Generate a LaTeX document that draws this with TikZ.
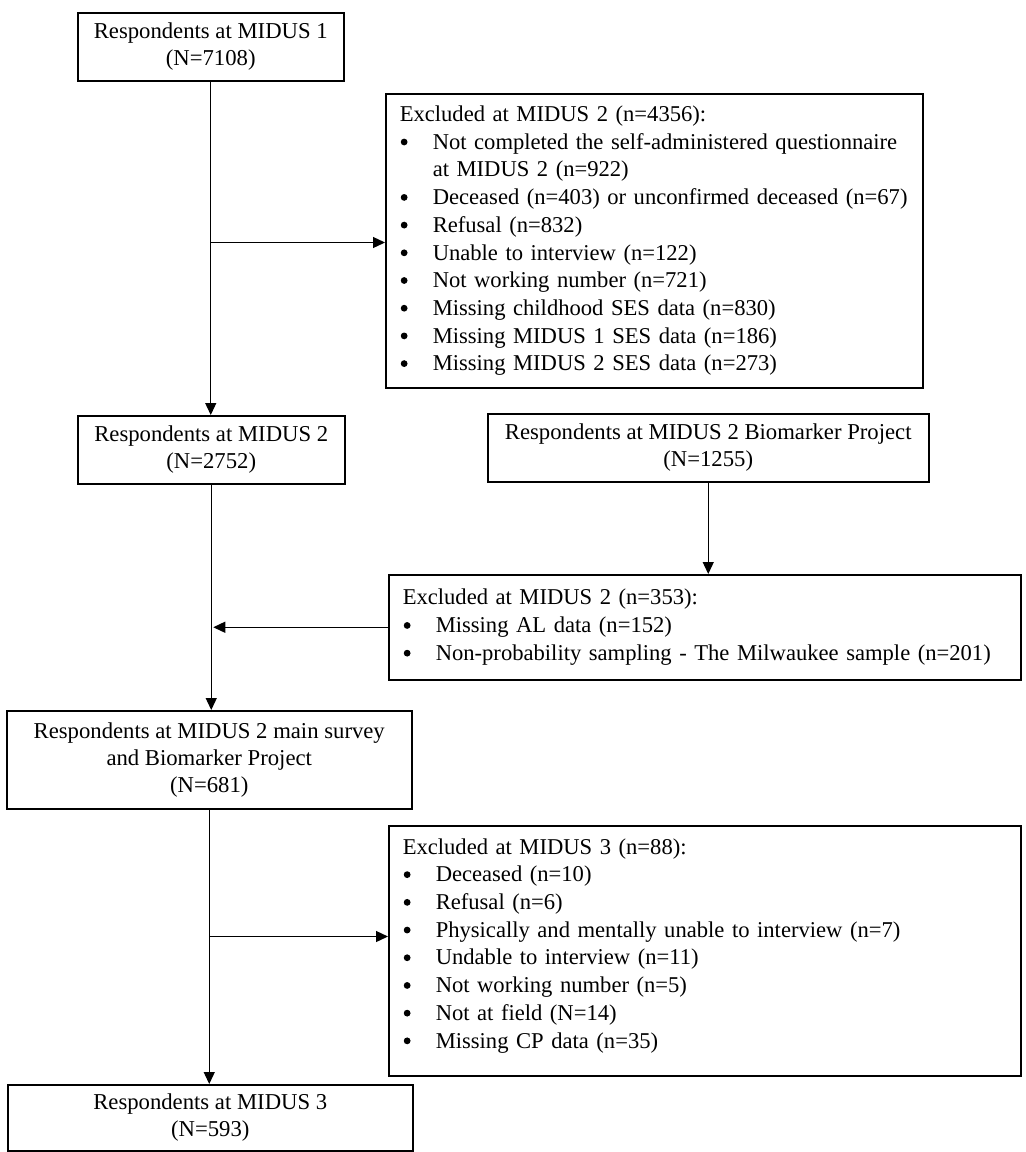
\documentclass[tikz,border=0pt]{standalone}
\usepackage{fontspec}
\setmainfont{Liberation Serif}
\usetikzlibrary{arrows.meta}
\newcommand{\myb}{\makebox[33pt][l]{\hspace{1pt}\tikz[x=1pt,y=1pt,baseline=0pt]\fill (3.6,7.2) circle[radius=3.4];}}
\newcommand{\myind}{\hspace*{33pt}}
\begin{document}
\begin{tikzpicture}[x=1pt,y=-1pt,
  box/.style={draw, line width=1.5pt, anchor=north west, align=center, inner sep=0pt,
    font=\fontsize{22.7}{27}\selectfont},
  excl/.style={draw, line width=1.5pt, anchor=north west, align=left, inner xsep=14pt, inner ysep=0pt,
    font=\fontsize{22.6}{27.7}\selectfont},
  conn/.style={line width=1.3pt, -{Triangle[length=12pt,width=11pt]}}]
\fill[white] (0,0) rectangle (1026,1152);
\useasboundingbox (0,0) rectangle (1026,1152);

\node[box, minimum width=266pt, minimum height=68pt] (m1) at (77,12)
  {Respondents at MIDUS 1\\(N=7108)};
\node[excl, text width=509pt, minimum height=294pt] (e1) at (385,93)
  {Excluded at MIDUS 2 (n=4356):\\
   \myb Not completed the self-administered questionnaire\\
   \myind at MIDUS 2 (n=922)\\
   \myb \mbox{Deceased (n=403) or unconfirmed deceased (n=67)}\\
   \myb Refusal (n=832)\\
   \myb Unable to interview (n=122)\\
   \myb Not working number (n=721)\\
   \myb Missing childhood SES data (n=830)\\
   \myb Missing MIDUS 1 SES data (n=186)\\
   \myb Missing MIDUS 2 SES data (n=273)};
\node[box, minimum width=267pt, minimum height=68pt] (m2) at (77,415)
  {Respondents at MIDUS 2\\(N=2752)};
\node[box, minimum width=441pt, minimum height=68pt] (bio) at (487,413)
  {Respondents at MIDUS 2 Biomarker Project\\(N=1255)};
\node[excl, text width=604pt, minimum height=105pt] (e2) at (388,574)
  {Excluded at MIDUS 2 (n=353):\\
   \myb Missing AL data (n=152)\\
   \myb \mbox{Non-probability sampling - The Milwaukee sample (n=201)}};
\node[box, minimum width=405pt, minimum height=98pt] (m3) at (6,710)
  {Respondents at MIDUS 2 main survey\\and Biomarker Project\\(N=681)};
\node[excl, text width=604pt, minimum height=250pt] (e3) at (388,825)
  {Excluded at MIDUS 3 (n=88):\\
   \myb Deceased (n=10)\\
   \myb Refusal (n=6)\\
   \myb Physically and mentally unable to interview (n=7)\\
   \myb Undable to interview (n=11)\\
   \myb Not working number (n=5)\\
   \myb Not at field (N=14)\\
   \myb Missing CP data (n=35)\rule[-15pt]{0pt}{1pt}};
\node[box, minimum width=405pt, minimum height=66pt] (m4) at (7,1084)
  {Respondents at MIDUS 3\\(N=593)};

% connectors
\draw[conn] (m1.south) -- (m1.south |- m2.north);
\path (m1.south) ++(0,161) coordinate (b1);
\draw[conn] (b1) -- (b1 -| e1.west);

\draw[conn] (bio.south) -- (bio.south |- e2.north);

\draw[conn] (m2.south) -- (m2.south |- m3.north);
\draw[conn, shorten >=2pt] (e2.west) -- (e2.west -| m2.south);

\draw[conn] (m3.south) -- (m3.south |- m4.north);
\path (m3.south) ++(0,127) coordinate (b3);
\draw[conn] (b3) -- (b3 -| e3.west);
\end{tikzpicture}
\end{document}
